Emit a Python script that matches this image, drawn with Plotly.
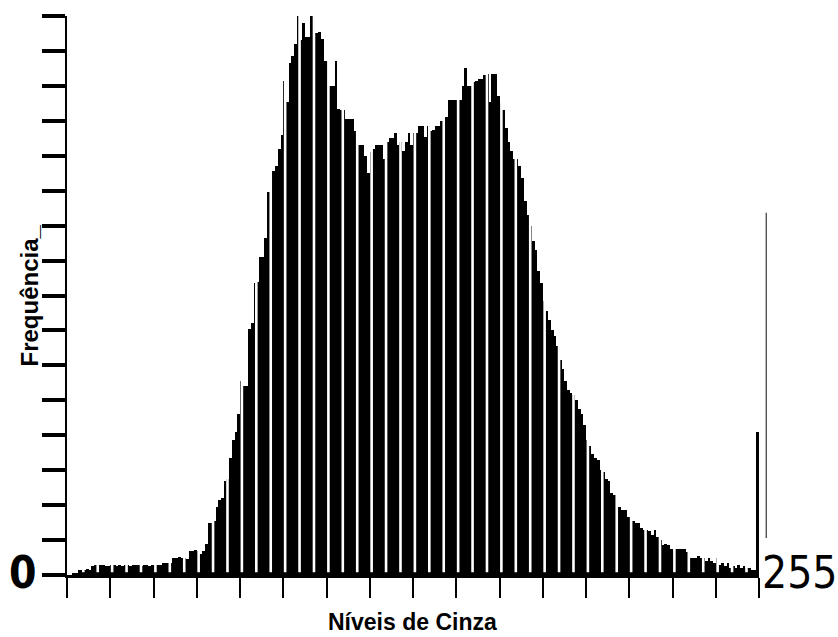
import plotly.graph_objects as go

# Gray levels 0..255 and frequencies (in units of the y-axis tick spacing)
levels = list(range(256))
freq = [
    0.0, 0.0, 0.04, 0.06,
    0.14, 0.15, 0.14, 0.16, 0.15,
    0.27, 0.28,
    0.26, 0.29, 0.28, 0.25, 0.27, 0.29, 0.28, 0.26, 0.28, 0.27,
    0.29, 0.28, 0.26, 0.28, 0.30, 0.28, 0.27, 0.29, 0.28, 0.26,
    0.28, 0.29, 0.30, 0.28,
    0.34, 0.33, 0.35, 0.34,
    0.50, 0.48, 0.52, 0.50, 0.50,
    0.45,
    0.70, 0.68, 0.72, 0.70,
    0.60, 0.70, 0.90,
    1.50, 1.50, 1.55,
    1.95, 2.15, 2.20,
    2.70, 2.75,
    3.35, 3.85, 4.10, 4.60,
    5.55, 5.40, 5.40,
    7.05, 7.20,
    8.35, 8.40,
    9.10, 9.10,
    9.65,
    10.95, 10.90,
    11.55, 11.70,
    12.20, 12.60,
    14.15, 13.55,
    14.65, 14.85, 15.20,
    16.0, 15.3, 15.8, 15.4, 15.4,
    16.0, 15.5, 15.5, 15.55, 15.35,
    14.7, 14.7, 14.0, 14.0, 14.7,
    13.35, 13.3, 13.3, 13.05, 13.05, 13.05,
    12.7, 12.3, 12.3, 12.3, 12.0, 11.5,
    12.1, 12.2, 12.3, 12.3, 12.3, 11.9,
    12.4, 12.5, 12.5, 12.65, 12.3, 12.4,
    12.15, 12.4, 12.65, 12.3, 12.65, 12.65,
    12.85, 12.85, 12.55, 12.85, 12.7, 12.75,
    12.85, 12.85, 13.0, 13.35, 13.1,
    13.6, 13.6, 13.6, 13.6, 13.6, 14.0,
    14.5, 14.0, 14.0, 14.1, 14.15, 14.2,
    14.2, 14.3, 14.35, 13.55, 14.35, 14.35,
    13.7, 13.5, 13.3, 12.8, 12.4, 12.15,
    11.9, 11.9, 11.7, 11.35, 10.7, 10.3,
    10.0, 9.55, 9.3, 8.7, 8.35, 7.85,
    7.55, 7.3, 7.0, 6.85, 6.55, 6.15,
    5.9, 5.55, 5.3, 5.2, 5.15, 5.0,
    4.75, 4.6, 4.3, 3.85, 3.7, 3.45,
    3.35, 3.3, 3.0, 2.95, 2.75, 2.7,
    2.35, 2.3, 2.0, 1.95, 1.85, 1.85,
    1.65, 1.65, 1.55, 1.5, 1.5, 1.35,
    1.3, 1.3, 1.25, 1.15, 1.3, 1.1,
    1.0, 0.85, 0.9, 0.85, 0.75, 0.7,
    0.75, 0.75, 0.75, 0.75, 0.65, 0.5,
    0.5, 0.5, 0.55, 0.5, 0.5, 0.4,
    0.5, 0.4, 0.35, 0.5, 0.3, 0.35,
    0.25, 0.35, 0.2, 0.25, 0.2, 0.3,
    0.2, 0.25, 0.2, 0.2, 0.15, 0.15,
    4.1,
]
assert len(freq) == len(levels), len(freq)

x_tickvals = list(range(0, 257, 16))
y_tickvals = list(range(0, 17))
x_title = "Níveis de Cinza"
y_title = "Frequência_"
label_min = "0"
label_max = "255"

fig = go.Figure()
fig.add_trace(go.Bar(
    x=[v + 0.5 for v in levels], y=freq, width=1.0,
    marker=dict(color="black", line=dict(width=0)),
    showlegend=False, hoverinfo="skip",
))

# white print-moire stripes through the bars
shapes = []
step = 16 / 3
k = 0
while 0.7 + step * k < 255:
    gx = 0.7 + step * k
    shapes.append(dict(type="line", xref="x", yref="y", x0=gx, x1=gx, y0=0.08, y1=16,
                       line=dict(color="white", width=2.6), layer="above"))
    k += 1
# scanner border artifact on the right
shapes.append(dict(type="line", xref="paper", yref="paper", x0=1.0105, x1=1.0105,
                   y0=0.066, y1=0.648, line=dict(color="#444", width=1.3)))

narrow = "DejaVu Sans Condensed, Liberation Sans Narrow, Roboto Condensed, Liberation Sans, sans-serif"

fig.update_layout(
    width=838, height=637,
    margin=dict(l=67, r=79, t=16, b=62),
    paper_bgcolor="white", plot_bgcolor="white",
    bargap=0,
    shapes=shapes,
    xaxis=dict(range=[0, 256], tickvals=x_tickvals, showticklabels=False,
               ticks="outside", ticklen=20, tickwidth=2, tickcolor="black",
               showline=True, linewidth=3, linecolor="black",
               showgrid=False, zeroline=False),
    yaxis=dict(range=[0, 16], tickvals=y_tickvals, showticklabels=False,
               ticks="outside", ticklen=23, tickwidth=4, tickcolor="black",
               showline=True, linewidth=2, linecolor="black",
               showgrid=False, zeroline=False),
    annotations=[
        dict(text=x_title, xref="paper", yref="paper", x=0.499, y=-0.084,
             showarrow=False, xanchor="center", yanchor="middle",
             font=dict(family="Liberation Sans, Arial, sans-serif", size=23, color="black", weight="bold")),
        dict(text=y_title, xref="paper", yref="paper", x=-0.0535, y=0.50,
             showarrow=False, textangle=-90, xanchor="center", yanchor="middle",
             font=dict(family="Liberation Sans, Arial, sans-serif", size=24, color="black", weight="bold")),
        dict(text=label_min, xref="paper", yref="paper", x=-0.0636, y=0.005,
             showarrow=False, xanchor="center", yanchor="middle",
             font=dict(family=narrow, size=44, color="black", weight="bold")),
        dict(text=label_max, xref="paper", yref="paper", x=1.117, y=0.005,
             showarrow=False, xanchor="right", yanchor="middle",
             font=dict(family=narrow, size=44, color="black")),
    ],
)

fig.write_html("out.html")
